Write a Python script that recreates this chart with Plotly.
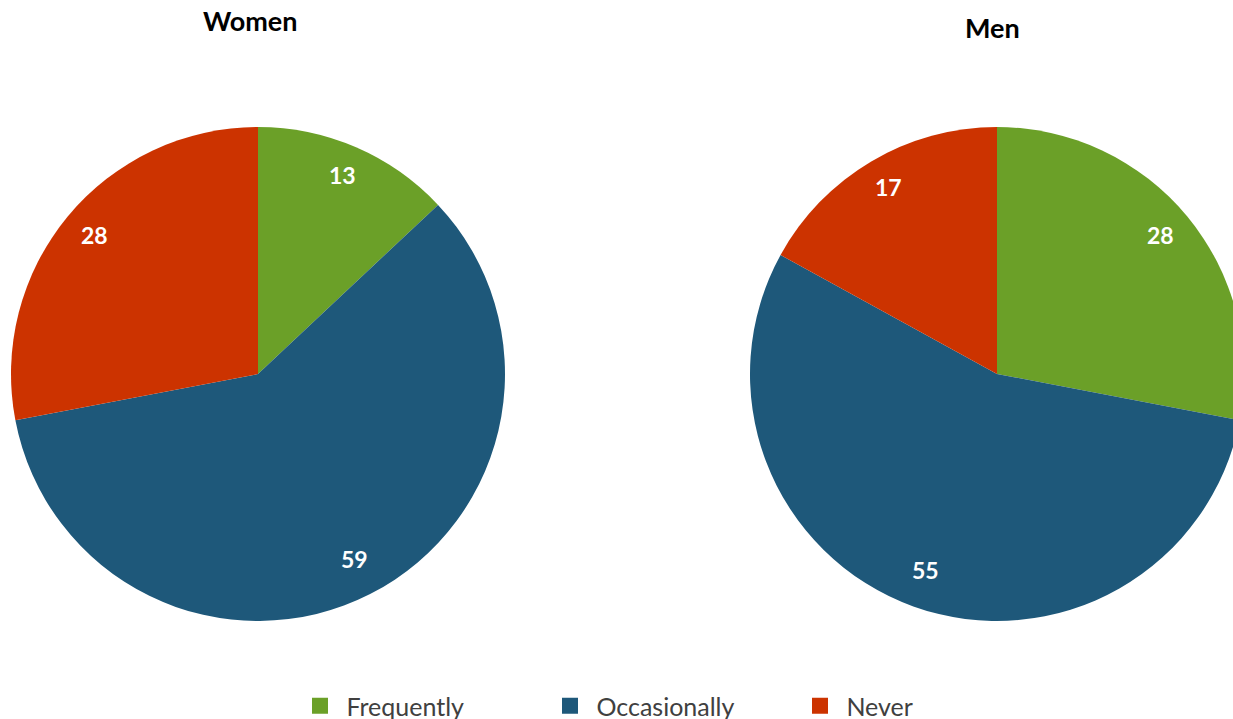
import math
import plotly.graph_objects as go

# Survey answers, percent of respondents
categories = ["Frequently", "Occasionally", "Never"]
women_values = [13, 59, 28]
men_values = [28, 55, 17]
colors = ["#6BA028", "#1E587A", "#CC3300"]

W, H = 1245, 719
R = 247
centers = {"Women": (258, 374), "Men": (997, 374)}
title_pos = {"Women": (250, 20), "Men": (992, 28)}
FONT = "Lato"

fig = go.Figure()
annotations = []


def dom(cx, cy):
    return dict(
        x=[(cx - R) / W, (cx + R) / W],
        y=[(H - cy - R) / H, (H - cy + R) / H],
    )


def label(px, py, text, size, color, yshift=0):
    return dict(
        x=px / W, y=(H - py) / H, xref="paper", yref="paper",
        xanchor="center", yanchor="middle", yshift=yshift,
        text=text, showarrow=False,
        font=dict(family=FONT, size=size, color=color),
    )


for name, vals in (("Women", women_values), ("Men", men_values)):
    cx, cy = centers[name]
    fig.add_trace(go.Pie(
        labels=categories,
        values=vals,
        sort=False,
        direction="clockwise",
        rotation=0,
        marker=dict(colors=colors, line=dict(width=0)),
        textinfo="none",
        hoverinfo="label+value",
        showlegend=False,
        domain=dom(cx, cy),
        name=name,
    ))
    # value labels placed along each slice's bisector
    total = sum(vals)
    acc = 0
    for v in vals:
        mid = (acc + v / 2) / total * 2 * math.pi
        acc += v
        px = cx + 0.86 * R * math.sin(mid)
        py = cy - 0.86 * R * math.cos(mid)
        annotations.append(label(px, py, f"<b>{v}</b>", 23, "white", yshift=4))
    tx, ty = title_pos[name]
    annotations.append(label(tx, ty, f"<b>{name}</b>", 27, "black"))

# legend entries with large square swatches
for cat, col in zip(categories, colors):
    fig.add_trace(go.Scatter(
        x=[None], y=[None], mode="markers", name="\u00a0" + cat,
        marker=dict(symbol="square", size=18, color=col),
        hoverinfo="skip",
    ))

fig.update_layout(
    width=W,
    height=H,
    margin=dict(l=0, r=0, t=0, b=0, autoexpand=False),
    paper_bgcolor="white",
    plot_bgcolor="white",
    xaxis=dict(visible=False),
    yaxis=dict(visible=False),
    annotations=annotations,
    legend=dict(
        orientation="h",
        x=300 / W, xanchor="left",
        y=(H - 706) / H, yanchor="middle",
        entrywidth=205, entrywidthmode="pixels",
        font=dict(family=FONT, size=25, color="#404040"),
        bgcolor="rgba(0,0,0,0)",
    ),
)

fig.write_html(
    "out.html",
    config={"displayModeBar": False},
    post_script="document.documentElement.style.overflow='hidden';document.body.style.overflow='hidden';",
)
